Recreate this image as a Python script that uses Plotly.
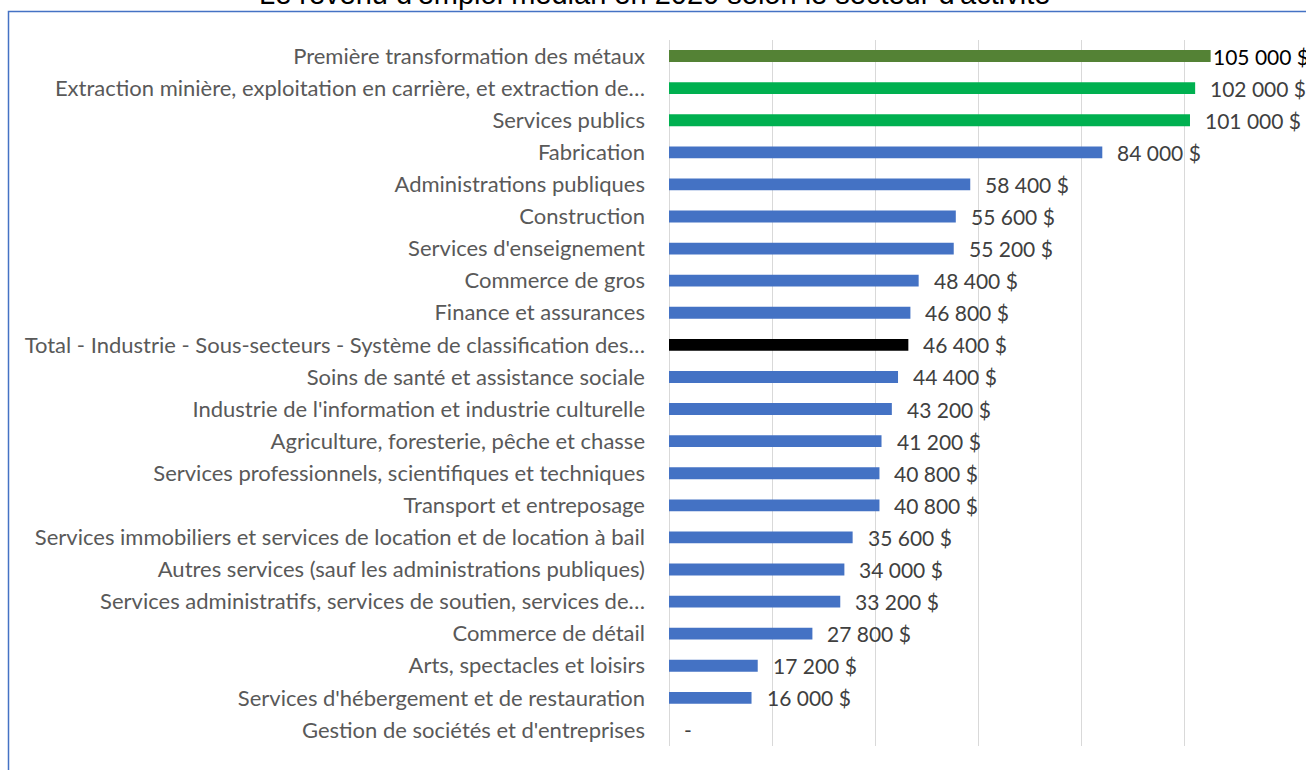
import plotly.graph_objects as go

categories = [
    "Première transformation des métaux",
    "Extraction minière, exploitation en carrière, et extraction de…",
    "Services publics",
    "Fabrication",
    "Administrations publiques",
    "Construction",
    "Services d'enseignement",
    "Commerce de gros",
    "Finance et assurances",
    "Total - Industrie - Sous-secteurs - Système de classification des…",
    "Soins de santé et assistance sociale",
    "Industrie de l'information et industrie culturelle",
    "Agriculture, foresterie, pêche et chasse",
    "Services professionnels, scientifiques et techniques",
    "Transport et entreposage",
    "Services immobiliers et services de location et de location à bail",
    "Autres services (sauf les administrations publiques)",
    "Services administratifs, services de soutien, services de…",
    "Commerce de détail",
    "Arts, spectacles et loisirs",
    "Services d'hébergement et de restauration",
    "Gestion de sociétés et d'entreprises",
]
values = [105000, 102000, 101000, 84000, 58400, 55600, 55200, 48400, 46800, 46400,
          44400, 43200, 41200, 40800, 40800, 35600, 34000, 33200, 27800, 17200, 16000, 0]
value_labels = ["105 000 $", "102 000 $", "101 000 $", "84 000 $", "58 400 $", "55 600 $",
                "55 200 $", "48 400 $", "46 800 $", "46 400 $", "44 400 $", "43 200 $",
                "41 200 $", "40 800 $", "40 800 $", "35 600 $", "34 000 $", "33 200 $",
                "27 800 $", "17 200 $", "16 000 $", "-"]
title_text = "Le revenu d'emploi médian en 2020 selon le secteur d'activité"

BLUE = "#4472C4"
colors = [BLUE] * len(categories)
colors[0] = "#548235"
colors[1] = "#00B050"
colors[2] = "#00B050"
colors[9] = "#000000"

label_colors = ["#404040"] * len(categories)
label_colors[0] = "#000000"

W, H = 1306, 770
L, R, T, B = 669, 18, 40, 24
PW, PH = W - L - R, H - T - B


def px_x(px):
    return (px - L) / PW


def px_y(py):
    return (H - B - py) / PH


fig = go.Figure()
fig.add_trace(go.Bar(
    x=values, y=categories, orientation="h",
    marker=dict(color=colors, line=dict(width=0)),
    hoverinfo="x+y",
))

for i, (c, v, t) in enumerate(zip(categories, values, value_labels)):
    fig.add_annotation(
        x=v, y=c, xref="x", yref="y", text=t, showarrow=False,
        xanchor="left", yanchor="middle", xshift=(0 if i == 0 else 13),
        font=dict(family="Lato, Noto Sans, sans-serif", size=21, color=label_colors[i]),
    )

# title (partially cut off at top, as in the reference)
fig.add_annotation(
    x=px_x(654), y=px_y(12), xref="paper", yref="paper", text=title_text,
    showarrow=False, xanchor="center", yanchor="bottom",
    font=dict(family="Liberation Sans, Arial, sans-serif", size=29, color="#000000"),
)

# chart-area border
fig.add_shape(
    type="rect", xref="paper", yref="paper",
    x0=px_x(8.5), x1=px_x(1330), y0=px_y(800), y1=px_y(11.5),
    line=dict(color=BLUE, width=1.5), fillcolor="rgba(0,0,0,0)", layer="below",
)

fig.update_layout(
    width=W, height=H,
    margin=dict(l=L, r=R, t=T, b=B, autoexpand=False),
    plot_bgcolor="white", paper_bgcolor="white",
    bargap=0.63, showlegend=False,
    xaxis=dict(range=[0, 120000], dtick=20000, showticklabels=False,
               showgrid=True, gridcolor="#D9D9D9", gridwidth=1,
               zeroline=True, zerolinecolor="#D9D9D9", zerolinewidth=1, fixedrange=True),
    yaxis=dict(autorange="reversed", showgrid=False, zeroline=False, showline=False,
               ticks="", ticklabelstandoff=23, fixedrange=True,
               tickfont=dict(family="Lato, Noto Sans, sans-serif", size=22, color="#595959")),
)

fig.write_html("out.html", config={"displayModeBar": False},
               post_script="document.body.style.margin='0';")
